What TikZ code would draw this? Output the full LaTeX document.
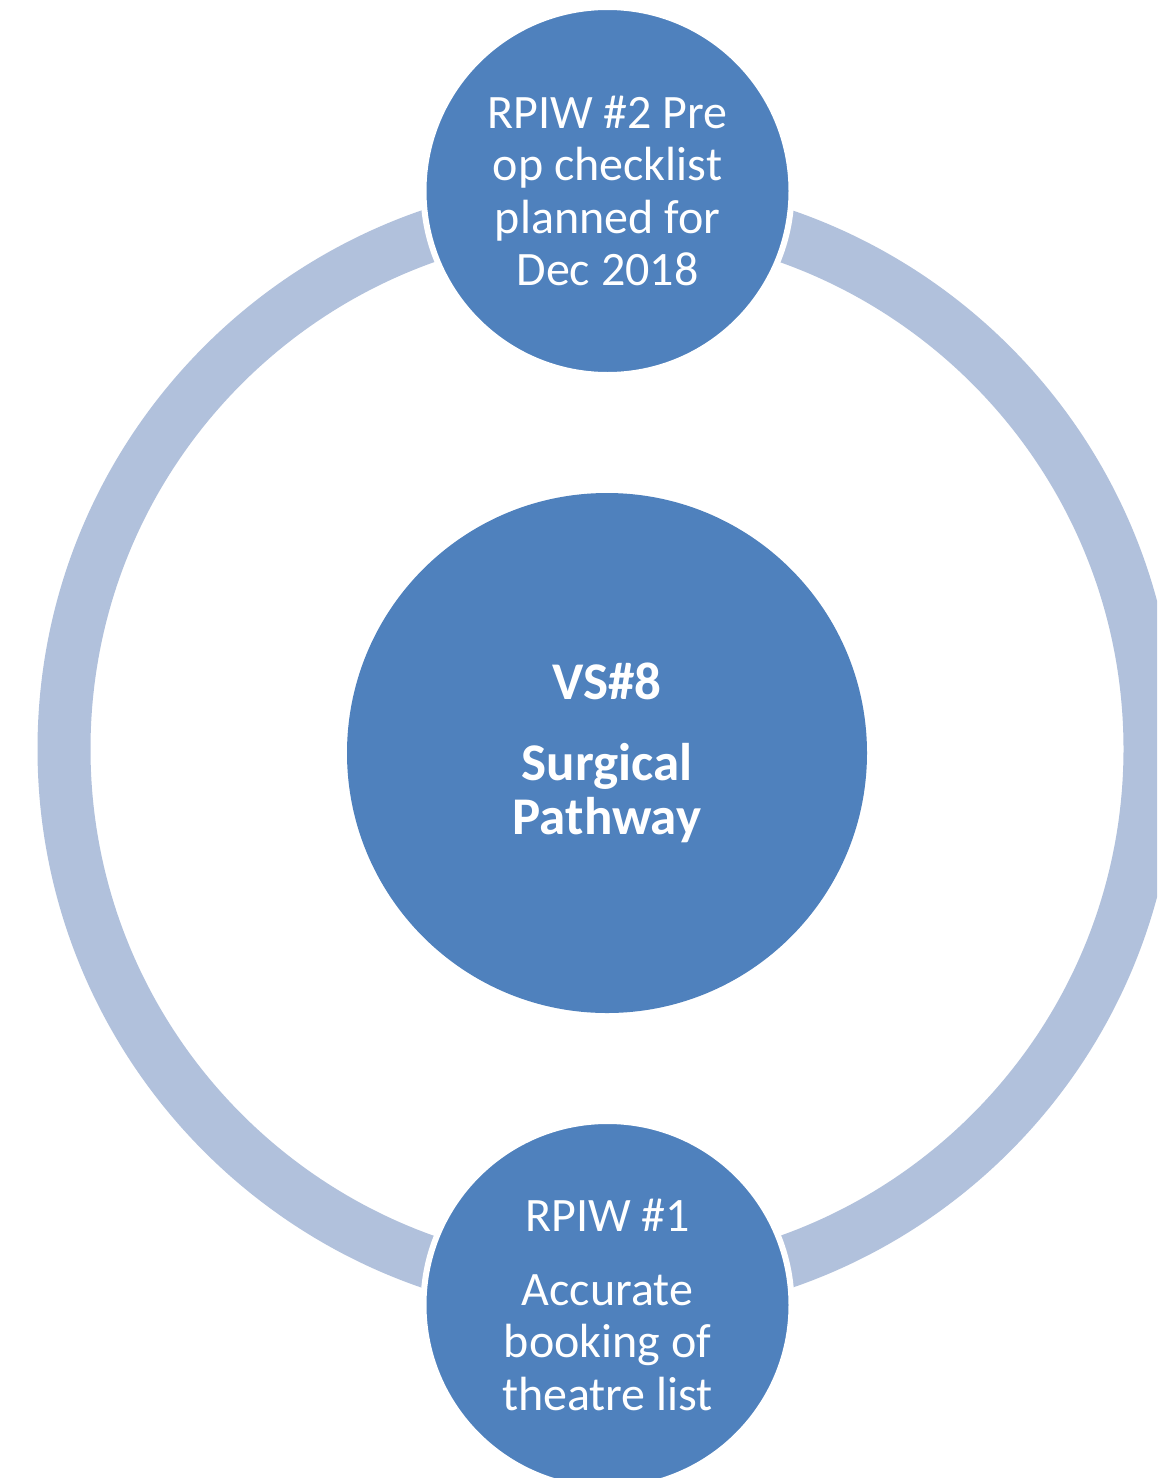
\documentclass[tikz,border=0pt]{standalone}
\usepackage{fontspec}
\setmainfont{Carlito}
\definecolor{bluefill}{HTML}{4F81BD}
\definecolor{ringblue}{HTML}{B1C1DC}
\tikzset{
  bubble/.style={circle, fill=bluefill, draw=white, line width=6pt, inner sep=0pt,
    text=white, align=center, font=\fontsize{48}{52.5}\selectfont},
  ringline/.style={draw=ringblue, line width=53pt}
}
\begin{document}
\begin{tikzpicture}[x=1pt,y=-1pt]
\useasboundingbox (0,0) rectangle (1157,1478);
\clip (0,0) rectangle (1157,1478);
\fill[white] (0,0) rectangle (1157,1478);
\coordinate (ringc) at (607,749);
\draw[ringline] (ringc) circle[radius=543pt];
\node[bubble, minimum size=368pt] (topc) at (607.5,191)
  {RPIW \#2 Pre\\op checklist\\planned for\\Dec 2018};
\node[bubble, minimum size=520pt, draw=none, font=\bfseries\fontsize{53}{54}\selectfont] (mid) at (607,753)
  {VS\#8\\[27pt]Surgical\\Pathway};
\node[bubble, minimum size=368pt] (botc) at (607.5,1305)
  {RPIW \#1\\[21pt]Accurate\\booking of\\theatre list};
\end{tikzpicture}
\end{document}
